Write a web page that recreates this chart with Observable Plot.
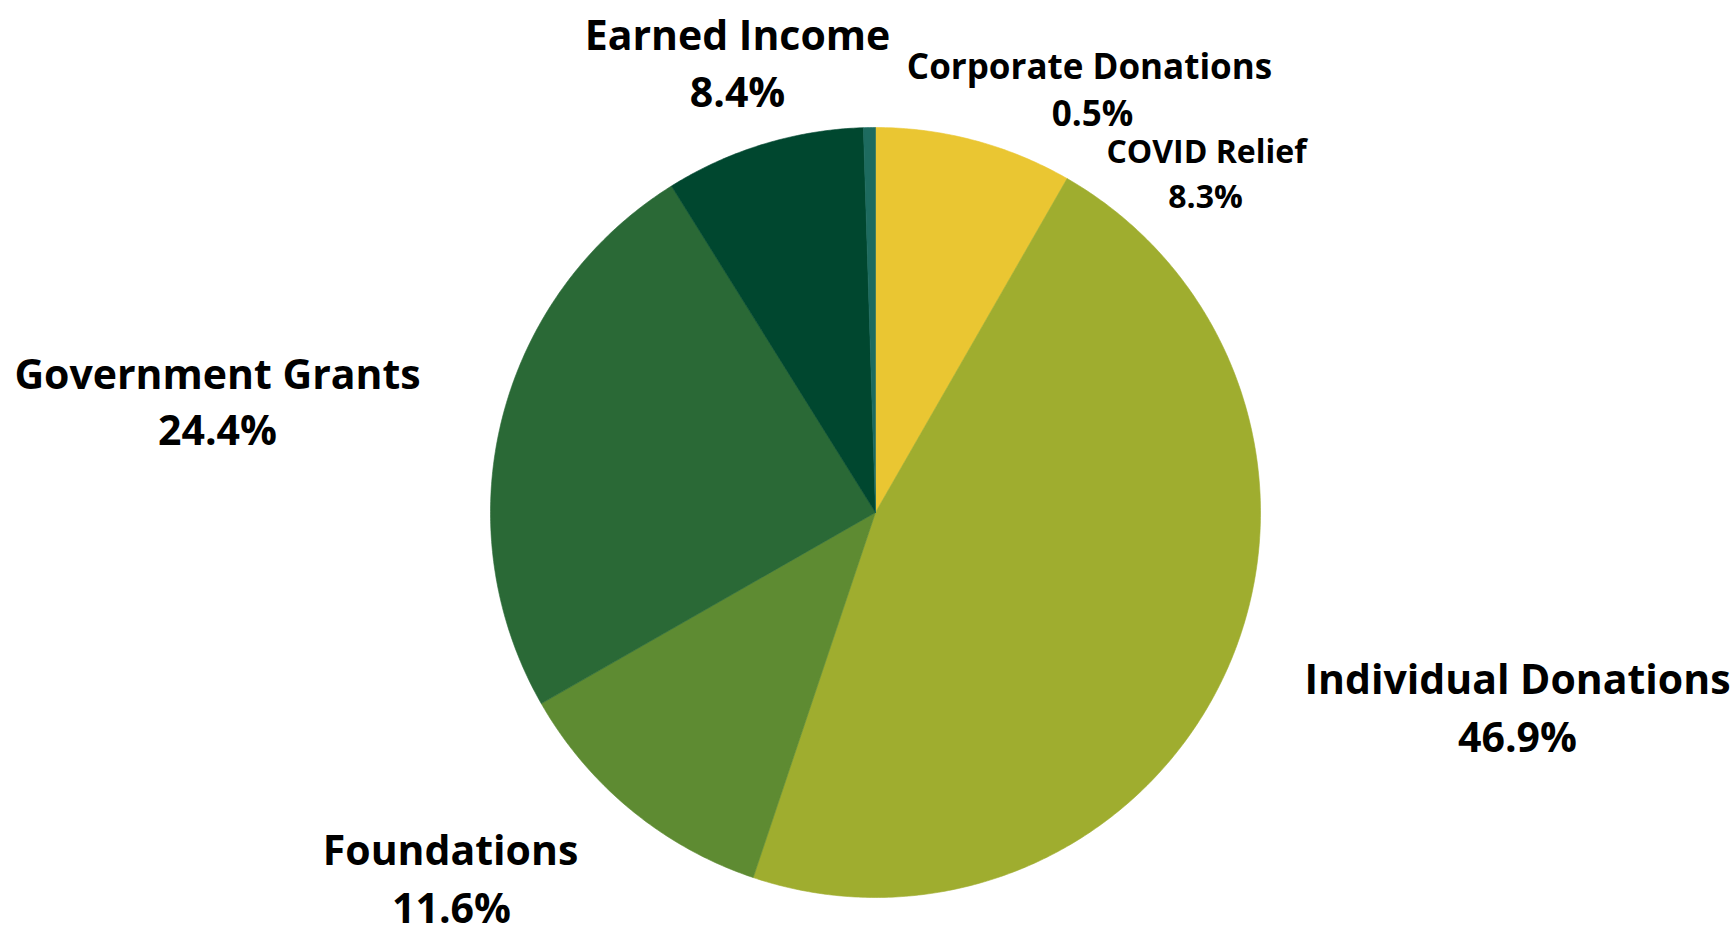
<!DOCTYPE html>
<html>
<head>
<meta charset="utf-8">
<script src="https://cdn.jsdelivr.net/npm/d3@7"></script>
<script src="https://cdn.jsdelivr.net/npm/@observablehq/plot@0.6"></script>
<style>
  html, body { margin: 0; padding: 0; background: #fff; }
  svg { display: block; }
</style>
</head>
<body>
<div id="chart"></div>
<script>
// ---- data (clockwise from 12 o'clock) ----
const categories = ["COVID Relief", "Individual Donations", "Foundations", "Government Grants", "Earned Income", "Corporate Donations"];
const shares = [8.3, 46.9, 11.6, 24.4, 8.4, 0.5];
const shareLabels = ["8.3%", "46.9%", "11.6%", "24.4%", "8.4%", "0.5%"];
const sliceColors = ["#EAC632", "#9FAD2F", "#5E8B32", "#2A6936", "#00472F", "#1D6B5F"];

// ---- layout (pixels) ----
const W = 1732, H = 933;
const CX = 875, CY = 512, R = 385;
// label baselines: [nameX, nameY, pctX, pctY, fontSize]
const labelLayout = {
  "COVID Relief":         [1206, 162, 1205, 207, 32],
  "Individual Donations": [1517, 693, 1517, 751, 41],
  "Foundations":          [450, 864, 451, 922, 41],
  "Government Grants":    [217, 388, 217, 444, 41],
  "Earned Income":        [737, 49, 737, 106, 41],
  "Corporate Donations":  [1089, 78, 1092, 125, 35]
};

// ---- build slice polygons in unit-circle coordinates ----
const total = d3.sum(shares);
const slicePts = [];
let acc = 0;
categories.forEach((c, i) => {
  const a0 = acc / total * 2 * Math.PI;
  acc += shares[i];
  const a1 = acc / total * 2 * Math.PI;
  const n = Math.max(2, Math.ceil((a1 - a0) / (Math.PI / 360)));
  slicePts.push({name: c, x: 0, y: 0});
  for (let k = 0; k <= n; k++) {
    const a = a0 + (a1 - a0) * k / n;
    slicePts.push({name: c, x: Math.sin(a), y: Math.cos(a)});
  }
  slicePts.push({name: c, x: 0, y: 0});
});

const toU = px => (px - CX) / R;
const toV = py => (CY - py) / R;
const labels = categories.map((c, i) => {
  const L = labelLayout[c];
  return {name: c, pct: shareLabels[i], nx: toU(L[0]), ny: toV(L[1]), px: toU(L[2]), py: toV(L[3]), size: L[4]};
});

const textMark = (key, xk, yk) => Plot.text(labels, {
  x: xk, y: yk, text: key, fontSize: d => d.size, fontWeight: 700,
  textAnchor: "middle", lineAnchor: "bottom", fill: "#000"
});

const chart = Plot.plot({
  width: W, height: H,
  marginLeft: CX - R, marginRight: W - CX - R,
  marginTop: CY - R, marginBottom: H - CY - R,
  x: {domain: [-1, 1], axis: null},
  y: {domain: [-1, 1], axis: null},
  color: {domain: categories, range: sliceColors},
  style: {fontFamily: "'Open Sans', 'Noto Sans', sans-serif", background: "#fff"},
  marks: [
    Plot.line(slicePts, {x: "x", y: "y", z: "name", fill: "name", stroke: "name", strokeWidth: 0.6, curve: "linear"}),
    textMark("name", "nx", "ny"),
    textMark("pct", "px", "py")
  ]
});
document.getElementById("chart").appendChild(chart);
</script>
</body>
</html>
